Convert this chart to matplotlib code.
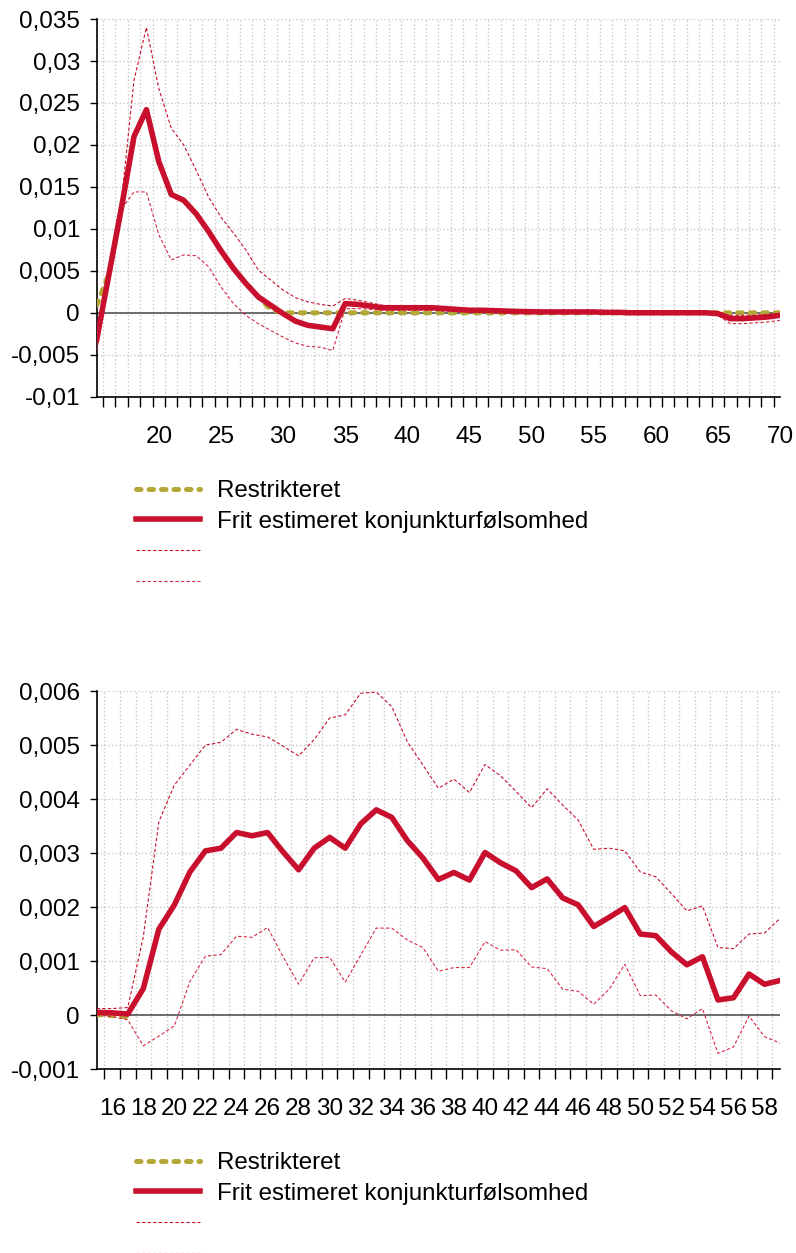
import numpy as np
import matplotlib
matplotlib.use("Agg")
import matplotlib.pyplot as plt
from matplotlib.ticker import FuncFormatter

plt.rcParams['font.family'] = ['Liberation Sans', 'DejaVu Sans']

# Øverste figur: perioder 15-70
x_top = np.arange(15, 71)
frit_top = [-0.0032, 0.0047, 0.0126, 0.0210, 0.0242, 0.0180, 0.0141, 0.0134, 0.0118, 0.0097,
            0.0074, 0.0053, 0.0035, 0.0019, 0.0009, -0.0001, -0.0010, -0.0015, -0.0017, -0.0019,
            0.0011, 0.0010, 0.0008, 0.0006, 0.0006, 0.0006, 0.0006, 0.0006, 0.0005, 0.0004,
            0.0003, 0.0003, 0.00025, 0.0002, 0.00015, 0.00012, 0.0001, 0.0001, 0.0001, 0.0001,
            0.0001, 0.00005, 0.00005, 0.0, 0.0, 0.0, 0.0, 0.0, 0.0, 0.0,
            -0.0001, -0.0007, -0.0007, -0.0006, -0.0005, -0.0003]
oevre_top = [-0.0025, 0.0055, 0.0135, 0.0277, 0.0340, 0.0267, 0.0220, 0.0200, 0.0170, 0.0138,
             0.0114, 0.0095, 0.0075, 0.0051, 0.0039, 0.0027, 0.0018, 0.0013, 0.0010, 0.0008,
             0.0017, 0.0015, 0.0012, 0.0009, 0.0008, 0.0008, 0.0008, 0.0008, 0.0007, 0.0006,
             0.0005, 0.0005, 0.0004, 0.0003, 0.0003, 0.0003, 0.0002, 0.0002, 0.0002, 0.0002,
             0.0002, 0.0001, 0.0001, 0.0001, 0.0001, 0.0001, 0.0001, 0.0001, 0.0001, 0.0001,
             0.0, -0.0003, -0.0003, -0.0003, -0.0002, -0.0001]
nedre_top = [-0.0045, 0.0040, 0.0124, 0.0144, 0.0144, 0.0093, 0.0063, 0.0069, 0.0068, 0.0055,
             0.0031, 0.0011, -0.0003, -0.0013, -0.0021, -0.0029, -0.0036, -0.0040, -0.0041, -0.0045,
             0.0005, 0.0005, 0.0004, 0.0003, 0.0003, 0.0003, 0.0003, 0.0003, 0.0002, 0.0002,
             0.0001, 0.0001, 0.0001, 0.0001, 0.0, 0.0, 0.0, 0.0, 0.0, 0.0,
             0.0, -0.0001, -0.0001, -0.0001, -0.0001, -0.0001, -0.0001, -0.0001, -0.0001, -0.0001,
             -0.0003, -0.0013, -0.0013, -0.0012, -0.0011, -0.0009]
restr_top = [0.0009] + frit_top[1:14] + [0.0004] + [0.0] * 41

# Nederste figur: perioder 15-59
x_bot = np.arange(15, 60)
frit_bot = [0.05, 0.04, 0.02, 0.49, 1.59, 2.04, 2.65, 3.04, 3.09, 3.38,
            3.32, 3.38, 3.02, 2.69, 3.09, 3.29, 3.09, 3.54, 3.80, 3.66,
            3.23, 2.91, 2.51, 2.64, 2.50, 3.01, 2.82, 2.67, 2.36, 2.52,
            2.17, 2.04, 1.64, 1.81, 1.99, 1.50, 1.47, 1.17, 0.93, 1.08,
            0.28, 0.32, 0.76, 0.57, 0.64]
oevre_bot = [0.12, 0.12, 0.14, 1.45, 3.58, 4.26, 4.63, 5.00, 5.05, 5.29,
             5.20, 5.15, 4.98, 4.80, 5.10, 5.50, 5.56, 5.96, 5.98, 5.71,
             5.06, 4.63, 4.20, 4.37, 4.12, 4.64, 4.43, 4.14, 3.84, 4.19,
             3.89, 3.61, 3.07, 3.09, 3.04, 2.65, 2.56, 2.25, 1.93, 2.02,
             1.25, 1.23, 1.50, 1.52, 1.79]
nedre_bot = [0.0, -0.03, -0.09, -0.57, -0.39, -0.20, 0.62, 1.09, 1.12, 1.46,
             1.44, 1.62, 1.08, 0.57, 1.06, 1.07, 0.61, 1.11, 1.61, 1.61,
             1.39, 1.25, 0.81, 0.88, 0.88, 1.36, 1.20, 1.21, 0.89, 0.86,
             0.48, 0.44, 0.20, 0.48, 0.94, 0.36, 0.37, 0.08, -0.07, 0.12,
             -0.71, -0.59, -0.02, -0.40, -0.52]
restr_bot = [0.01, -0.01, -0.03] + [np.nan] * 42
# værdier i tusindedele
frit_bot = np.array(frit_bot) / 1000
oevre_bot = np.array(oevre_bot) / 1000
nedre_bot = np.array(nedre_bot) / 1000
restr_bot = np.array(restr_bot) / 1000

labels = ["Restrikteret", "Frit estimeret konjunkturfølsomhed", " ", " "]

RED = "#c8102e"
OLIVE = "#b3a836"


def komma(v, pos):
    v = round(v, 6)
    if v == 0:
        return "0"
    return f"{v:g}".replace(".", ",")


def tegn(ax, x, restr, frit, oevre, nedre, ylim, ystep, xlabels, legend_top):
    ax.axhline(0, color="#555555", lw=1.2, zorder=2)
    l1, = ax.plot(x, restr, color=OLIVE, lw=3.6, dashes=(0.9, 1.6),
                  dash_capstyle="round", zorder=3)
    l2, = ax.plot(x, frit, color=RED, lw=4.0, zorder=5)
    l3, = ax.plot(x, oevre, color=RED, lw=0.8, dashes=(3, 2), zorder=4)
    l4, = ax.plot(x, nedre, color="#d42a44", lw=0.8, dashes=(3, 2), zorder=4)

    ax.set_xlim(x[0], x[-1])
    ax.set_ylim(*ylim)
    ax.set_yticks(np.arange(ylim[0], ylim[1] + ystep / 2, ystep))
    ax.yaxis.set_major_formatter(FuncFormatter(komma))
    ax.set_xticks(np.arange(x[0] + 0.5, x[-1], 1))
    ax.set_xticklabels([])
    ax.set_xticks(xlabels, minor=True)
    ax.set_xticklabels([str(v) for v in xlabels], minor=True)

    ax.tick_params(axis="y", length=5, width=1, pad=7, labelsize=17.5)
    ax.tick_params(axis="x", which="major", length=7.5, width=1)
    ax.tick_params(axis="x", which="minor", length=0, pad=21, labelsize=17.5)

    ax.grid(True, which="major", color="#c8c8c8", linestyle=":", lw=1)
    for s in ["top", "right"]:
        ax.spines[s].set_visible(False)
    ax.spines["left"].set_linewidth(1.2)
    ax.spines["bottom"].set_linewidth(1.2)

    fig.legend([l1, l2, l3, l4], labels, loc="upper left",
               bbox_to_anchor=(136 / 796, legend_top), frameon=False, fontsize=17.4,
               handlelength=2.65, handletextpad=0.7, labelspacing=0.37,
               borderpad=0, borderaxespad=0)


fig = plt.figure(figsize=(7.96, 12.53), dpi=100)
ax1 = fig.add_axes([0.1215, 0.6834, 0.8585, 0.3014])
ax2 = fig.add_axes([0.1215, 0.1468, 0.8585, 0.3017])

tegn(ax1, x_top, restr_top, frit_top, oevre_top, nedre_top,
     (-0.01, 0.035), 0.005, list(range(20, 71, 5)), 1 - 480 / 1253)
tegn(ax2, x_bot, restr_bot, frit_bot, oevre_bot, nedre_bot,
     (-0.001, 0.006), 0.001, list(range(16, 59, 2)), 1 - 1152 / 1253)

plt.savefig("out.png", dpi=100)
